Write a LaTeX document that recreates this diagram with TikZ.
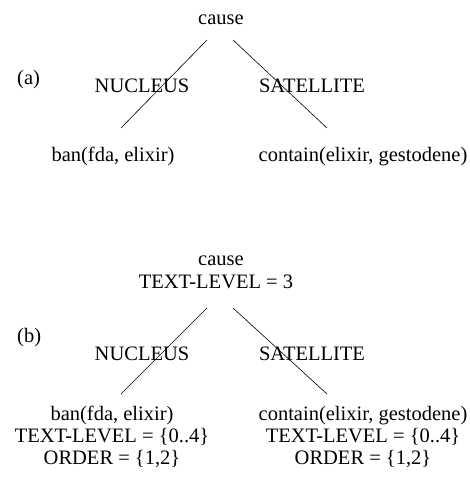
\documentclass[tikz,border=0pt]{standalone}
\usepackage{fontspec}
\setmainfont{Liberation Serif}
\begin{document}
\begin{tikzpicture}[x=1pt,y=-1pt,
  lbl/.style={inner sep=0pt,anchor=base,font=\fontsize{20.5}{22}\selectfont},
  tag/.style={lbl,anchor=base west},
  branch/.style={line width=0.6pt,black}]
\useasboundingbox (0,0) rectangle (469,484);
% ---------- (a) ----------
\node[lbl] (causeA) at (221,25) {cause};
\node[tag] (labA) at (17,85) {(a)};
\node[lbl] (nucA) at (142,93) {NUCLEUS};
\node[lbl] (satA) at (312,93) {SATELLITE};
\node[lbl] (banA) at (113,161) {ban(fda, elixir)};
\node[lbl] (conA) at (363,161) {contain(elixir, gestodene)};
\coordinate (aLt) at (207,40);
\coordinate (aLb) at (121,128);
\coordinate (aRt) at (233,40);
\coordinate (aRb) at (327,128);
\draw[branch] (aLt) -- (aLb);
\draw[branch] (aRt) -- (aRb);
% ---------- (b) ----------
\node[lbl] (causeB) at (221,265) {cause};
\node[lbl] (tlB) at (216,288) {TEXT-LEVEL = 3};
\node[tag] (labB) at (17,342) {(b)};
\node[lbl] (nucB) at (142,360) {NUCLEUS};
\node[lbl] (satB) at (312,360) {SATELLITE};
\node[lbl] (banB) at (112,420) {ban(fda, elixir)};
\node[lbl] (banBtl) at (112,442) {TEXT-LEVEL = \{0..4\}};
\node[lbl] (banBor) at (112,464) {ORDER = \{1,2\}};
\node[lbl] (conB) at (363,420) {contain(elixir, gestodene)};
\node[lbl] (conBtl) at (363,442) {TEXT-LEVEL = \{0..4\}};
\node[lbl] (conBor) at (363,464) {ORDER = \{1,2\}};
\coordinate (bLt) at (207,308);
\coordinate (bLb) at (121,394);
\coordinate (bRt) at (233,308);
\coordinate (bRb) at (327,394);
\draw[branch] (bLt) -- (bLb);
\draw[branch] (bRt) -- (bRb);
\end{tikzpicture}
\end{document}
